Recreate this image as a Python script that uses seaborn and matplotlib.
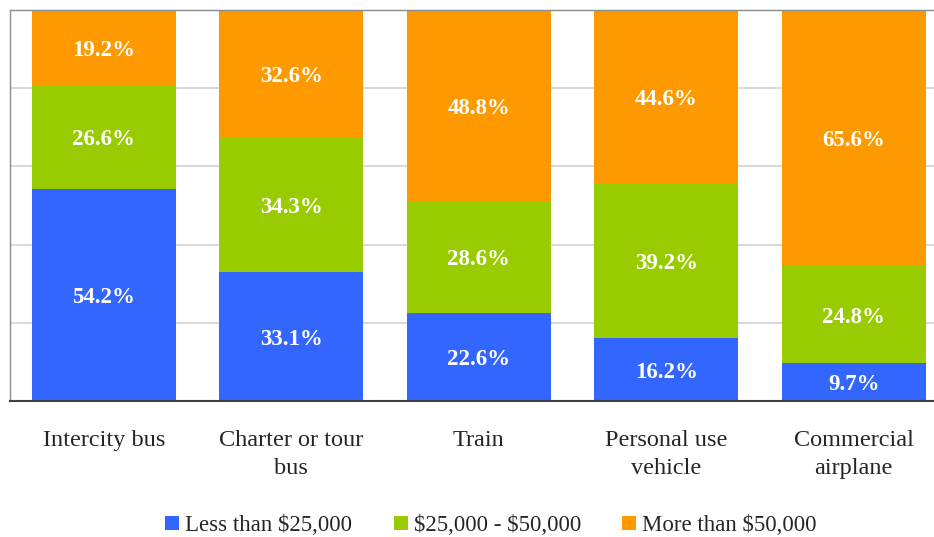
import pandas as pd
import matplotlib.pyplot as plt
import seaborn as sns
from matplotlib.patches import Patch

# data (percent of riders by household income)
modes = ["Intercity bus", "Charter or tour\nbus", "Train", "Personal use\nvehicle", "Commercial\nairplane"]
less_25k = [54.2, 33.1, 22.6, 16.2, 9.7]
mid_25_50k = [26.6, 34.3, 28.6, 39.2, 24.8]
more_50k = [19.2, 32.6, 48.8, 44.6, 65.6]
series_names = [r"Less than \$25,000", r"\$25,000 - \$50,000", r"More than \$50,000"]
colors = ["#3366FF", "#99CC00", "#FF9900"]

df = pd.DataFrame({"mode": modes, "low": less_25k, "mid": mid_25_50k, "high": more_50k})
df["cum_low"] = df["low"]
df["cum_mid"] = df["low"] + df["mid"]
df["cum_high"] = df["cum_mid"] + df["high"]

sns.set_style("white")
plt.rcParams["font.family"] = ["Liberation Serif", "DejaVu Serif"]

fig = plt.figure(figsize=(9.34, 5.37), dpi=100)
ax = fig.add_axes([10 / 934, 136 / 537, 937.5 / 934, 391 / 537])

# stacked bars: draw cumulative totals back to front
for col, c in zip(["cum_high", "cum_mid", "cum_low"], colors[::-1]):
    sns.barplot(data=df, x="mode", y=col, color=c, width=0.768, saturation=1,
                edgecolor="none", linewidth=0, ax=ax, zorder=2)

# segment labels in the middle of each piece
for i, row in df.iterrows():
    bottoms = [0, row["cum_low"], row["cum_mid"]]
    for b, v in zip(bottoms, [row["low"], row["mid"], row["high"]]):
        ax.annotate(f"{v:.1f}%", (i, b + v / 2), xytext=(0, -2), textcoords="offset points",
                    ha="center", va="center", color="white",
                    fontsize=16.5, fontweight="bold", zorder=3)

ax.set_ylim(0, 100)
ax.set_xlim(-0.5, 4.5)
ax.set_yticks([0, 20, 40, 60, 80, 100])
ax.set_yticklabels([])
ax.tick_params(axis="y", length=0)
ax.tick_params(axis="x", length=0, pad=21, labelsize=17.5)
for t in ax.get_xticklabels():
    t.set_linespacing(1.45)
ax.set_xlabel("")
ax.set_ylabel("")
ax.grid(axis="y", color="#d9d9d9", linewidth=1.5, zorder=0)
ax.set_axisbelow(True)

for s in ["left", "top", "right"]:
    ax.spines[s].set_color("#8c8c8c")
    ax.spines[s].set_linewidth(1)
ax.spines["bottom"].set_color("#404040")
ax.spines["bottom"].set_linewidth(1.5)

handles = [Patch(facecolor=c, edgecolor="none", label=n) for c, n in zip(colors, series_names)]
fig.legend(handles=handles, loc="center", bbox_to_anchor=(491 / 934, 1 - 525.5 / 537), ncol=3,
           frameon=False, fontsize=16.5, handlelength=0.61, handleheight=0.61,
           handletextpad=0.26, columnspacing=1.8)

plt.savefig("out.png", dpi=100)
